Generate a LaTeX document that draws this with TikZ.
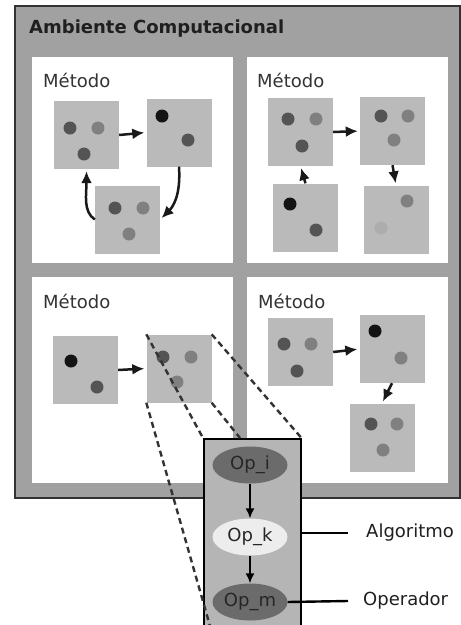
\documentclass[tikz,border=0pt]{standalone}
\usepackage{fontspec}
\setmainfont{DejaVu Sans}
\usetikzlibrary{arrows.meta,shapes.geometric}

\definecolor{frameGray}{gray}{0.63}
\definecolor{boxGray}{gray}{0.73}
\definecolor{zoomGray}{gray}{0.71}
\definecolor{dotBlack}{gray}{0.08}
\definecolor{dotDark}{gray}{0.33}
\definecolor{dotMid}{gray}{0.50}
\definecolor{dotLight}{gray}{0.68}
\definecolor{opDark}{gray}{0.42}
\definecolor{opLight}{gray}{0.93}

\begin{document}
\begin{tikzpicture}[x=1pt,y=-1pt,
  font=\fontsize{18}{22}\selectfont,
  env node/.style={rectangle,draw=black!80,line width=1.5pt,fill=frameGray,
    minimum width=445pt,minimum height=492pt,anchor=north west},
  panel/.style={rectangle,fill=white,minimum width=201pt,minimum height=206pt,
    anchor=north west},
  method label/.style={anchor=base west,inner sep=0pt,text=black!80},
  state box/.style={rectangle,fill=boxGray,minimum width=65pt,minimum height=68pt},
  trans/.style={-{Latex[length=12pt,width=11pt]},line width=2.5pt,shorten >=2pt,black!90},
  zoom box/.style={rectangle,draw=black,line width=1.5pt,fill=zoomGray,
    minimum width=97pt,minimum height=220pt,anchor=north west},
  op node/.style={ellipse,minimum width=75pt,minimum height=37pt,inner sep=0pt,
    text=black!85},
  op arrow/.style={-{Latex[length=10pt,width=9pt]},line width=1.6pt,black},
  zoom line/.style={dash pattern=on 6pt off 4pt,line width=2.4pt,black!80}]

  \useasboundingbox (0,0) rectangle (461,625);
  \clip (0,0) rectangle (461,625);

  % ambiente
  \node[env node] (env) at (14,5) {};
  \node[anchor=base west,inner sep=0pt,font=\fontsize{18}{22}\selectfont\bfseries,
    text=black!88] (envTitle) at (29,33) {Ambiente Computacional};

  \node[panel] (panelTL) at (32,57) {};
  \node[panel] (panelTR) at (247,57) {};
  \node[panel] (panelBL) at (32,277) {};
  \node[panel] (panelBR) at (247,277) {};

  \node[method label] (metTL) at (43,87) {Método};
  \node[method label] (metTR) at (257,87) {Método};
  \node[method label] (metBL) at (43,308) {Método};
  \node[method label] (metBR) at (258,308) {Método};

  % estados
  \node[state box] (A) at (86.5,135) {};
  \node[state box] (B) at (179,132.5) {};
  \node[state box] (C) at (127.5,219.5) {};
  \node[state box] (D) at (300.5,132) {};
  \node[state box] (E) at (392.5,131) {};
  \node[state box] (F) at (305.5,217.5) {};
  \node[state box] (G) at (396,219.5) {};
  \node[state box] (H) at (85.5,370) {};
  \node[state box] (I) at (179,368.5) {};
  \node[state box] (J) at (300.5,352) {};
  \node[state box] (K) at (392,349) {};
  \node[state box] (L) at (382,437.5) {};

  \foreach \x/\y in {162/116,290/204,71/361,375/331}
    \fill[dotBlack] (\x,\y) circle (6.5pt);
  \foreach \x/\y in {70/128,84/154,188/140,115/208,288/119,302/146,381/116,
    316/230,97/387,163/357,284/344,297/371,371/424}
    \fill[dotDark] (\x,\y) circle (6.5pt);
  \foreach \x/\y in {98/128,143/208,129/234,316/119,408/116,394/140,407/201,
    191/357,177/382,311/344,401/358,397/424,383/450}
    \fill[dotMid] (\x,\y) circle (6.5pt);
  \fill[dotLight] (381,228) circle (6.5pt);

  \draw[trans] (A.east) -- (B.west);
  \draw[trans] (B.south) .. controls +(2,30) and +(12,-12) .. (C.east);
  \draw[trans] (C.west) .. controls +(-12,-8) and +(0,25) .. (A.south);
  \draw[trans] (D.east) -- (E.west);
  \draw[trans] (E.south) -- (G.north);
  \draw[trans] (F.north) -- (D.south);
  \draw[trans] (H.east) -- (I.west);
  \draw[trans] (J.east) -- (K.west);
  \draw[trans] (K.south) -- (L.north);

  % zoom do algoritmo
  \node[zoom box] (zoom) at (203,438) {};
  \coordinate (zoomTop) at (240,438);
  \coordinate (zoomLow) at (214,640);
  \draw[zoom line] (I.north west) -- (zoom.north west);
  \draw[zoom line] (I.north east) -- (zoom.north east);
  \draw[zoom line] (I.south east) -- (zoomTop);
  \draw[zoom line] (I.south west) -- (zoomLow);

  \node[op node,fill=opDark] (opi) at (250,465) {Op\_i};
  \node[op node,fill=opLight] (opk) at (250,537) {Op\_k};
  \node[op node,fill=opDark] (opm) at (250,602) {Op\_m};
  \draw[op arrow] (opi) -- (opk);
  \draw[op arrow] (opk) -- (opm);

  \coordinate (algEnd) at (348,533);
  \coordinate (opEnd) at (348,601);
  \draw[line width=2.4pt] (algEnd -| zoom.east) -- (algEnd);
  \draw[line width=2.4pt] (opm.east) -- (opEnd);
  \node[anchor=west,inner sep=0pt,text=black!88] (algLabel) at (366,533) {Algoritmo};
  \node[anchor=west,inner sep=0pt,text=black!88] (opLabel) at (363,601) {Operador};

\end{tikzpicture}
\end{document}
